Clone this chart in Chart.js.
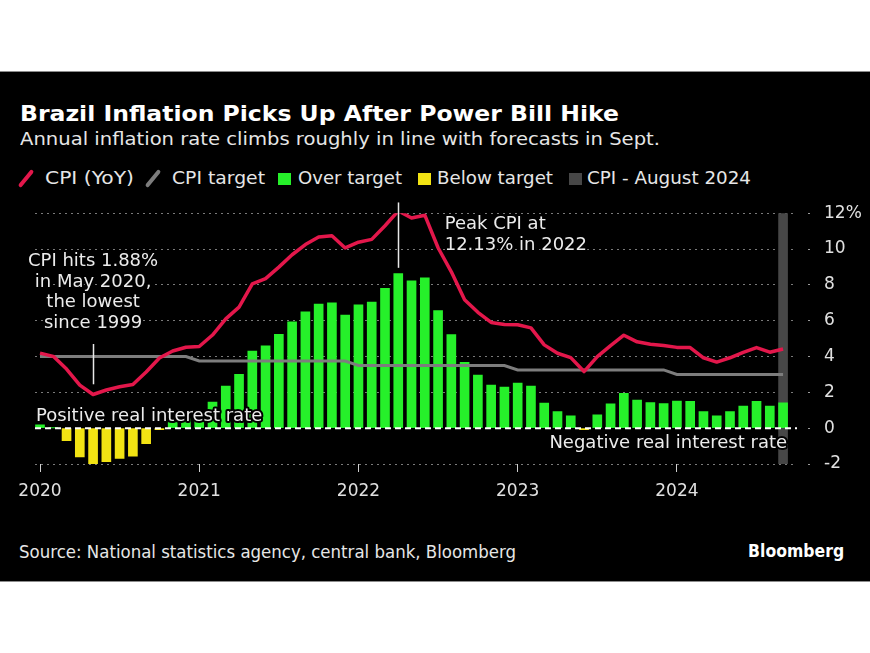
<!DOCTYPE html>
<html lang="en">
  <head>
    <meta charset="UTF-8" />
    <title>Brazil Inflation Picks Up After Power Bill Hike</title>
    <style>
      html,
      body {
        margin: 0;
        padding: 0;
        background: #fff;
      }
      body {
        width: 870px;
        height: 653px;
        position: relative;
        overflow: hidden;
        font-family: "DejaVu Sans", sans-serif;
      }
      .panel {
        position: absolute;
        left: 0;
        top: 71px;
        width: 870px;
        height: 509px;
        background: #000;
        border-top: 1px solid #8c8c8c;
        border-bottom: 1px solid #8c8c8c;
      }
      .txt {
        position: absolute;
        white-space: nowrap;
        line-height: 1;
        color: #e6e6e6;
        transform-origin: left center;
      }
      .title {
        left: 20px;
        top: 103px;
        font-size: 21.5px;
        font-weight: bold;
        color: #fff;
      }
      .subtitle {
        left: 20px;
        top: 130px;
        font-size: 18px;
      }
      .legend {
        top: 169px;
        font-size: 18px;
      }
      .slash {
        position: absolute;
        top: 168px;
        width: 4px;
        height: 21px;
        border-radius: 2px;
        transform: rotate(39deg);
      }
      .sq {
        position: absolute;
        top: 173px;
        width: 13px;
        height: 12px;
      }
      .source {
        left: 19px;
        top: 544px;
        font-size: 17px;
      }
      .brand {
        right: 26px;
        top: 543px;
        font-size: 17px;
        font-weight: bold;
        color: #fff;
        transform-origin: right center;
      }
      #chart {
        position: absolute;
        left: 0;
        top: 190px;
      }
    </style>
  </head>
  <body>
    <div class="panel"></div>
    <div class="txt title" data-w="599">Brazil Inflation Picks Up After Power Bill Hike</div>
    <div class="txt subtitle" data-w="640">Annual inflation rate climbs roughly in line with forecasts in Sept.</div>

    <i class="slash" style="left: 24px; background: #e3174b"></i>
    <div class="txt legend" style="left: 45px" data-w="89">CPI (YoY)</div>
    <i class="slash" style="left: 151px; background: #7d7d7d"></i>
    <div class="txt legend" style="left: 172px" data-w="93">CPI target</div>
    <i class="sq" style="left: 278px; background: #26f02a"></i>
    <div class="txt legend" style="left: 298px" data-w="104">Over target</div>
    <i class="sq" style="left: 418px; background: #f2e313"></i>
    <div class="txt legend" style="left: 437px" data-w="116">Below target</div>
    <i class="sq" style="left: 569px; background: #474747"></i>
    <div class="txt legend" style="left: 587px" data-w="164">CPI - August 2024</div>

    <canvas id="chart" width="870" height="320"></canvas>

    <div class="txt source" data-w="497">Source: National statistics agency, central bank, Bloomberg</div>
    <div class="txt brand" data-w="96">Bloomberg</div>

    <script src="https://cdn.jsdelivr.net/npm/chart.js"></script>
    <script>
      // monthly, Jan 2020 .. Sep 2024
      const cpi = [
        4.19, 4.01, 3.3, 2.4, 1.88, 2.13, 2.31, 2.44, 3.14, 3.92, 4.31, 4.52,
        4.56, 5.2, 6.1, 6.76, 8.06, 8.35, 8.99, 9.68, 10.25, 10.67, 10.74, 10.06,
        10.38, 10.54, 11.3, 12.13, 11.73, 11.89, 10.07, 8.73, 7.17, 6.47, 5.9, 5.79,
        5.77, 5.6, 4.65, 4.18, 3.94, 3.16, 3.99, 4.61, 5.19, 4.82, 4.68, 4.62,
        4.51, 4.5, 3.93, 3.69, 3.93, 4.23, 4.5, 4.24, 4.42,
      ];
      const cpiTarget = [
        4, 4, 4, 4, 4, 4, 4, 4, 4, 4, 4, 4,
        3.75, 3.75, 3.75, 3.75, 3.75, 3.75, 3.75, 3.75, 3.75, 3.75, 3.75, 3.75,
        3.5, 3.5, 3.5, 3.5, 3.5, 3.5, 3.5, 3.5, 3.5, 3.5, 3.5, 3.5,
        3.25, 3.25, 3.25, 3.25, 3.25, 3.25, 3.25, 3.25, 3.25, 3.25, 3.25, 3.25,
        3, 3, 3, 3, 3, 3, 3, 3, 3,
      ];
      const gap = [
        0.19, 0.01, -0.7, -1.6, -2.12, -1.87, -1.69, -1.56, -0.86, -0.08, 0.31, 0.52,
        0.81, 1.45, 2.35, 3.01, 4.31, 4.6, 5.24, 5.93, 6.5, 6.92, 6.99, 6.31,
        6.88, 7.04, 7.8, 8.63, 8.23, 8.39, 6.57, 5.23, 3.67, 2.97, 2.4, 2.29,
        2.52, 2.35, 1.4, 0.93, 0.69, -0.09, 0.74, 1.36, 1.94, 1.57, 1.43, 1.37,
        1.51, 1.5, 0.93, 0.69, 0.93, 1.23, 1.5, 1.24, 1.42,
      ];
      const yearTicks = [0, 12, 24, 36, 48];
      const yearLabels = ["2020", "2021", "2022", "2023", "2024"];
      const latestMonth = 56; // grey column
      const lowNote = ["CPI hits 1.88%", "in May 2020,", "the lowest", "since 1999"];
      const peakNote = ["Peak CPI at", "12.13% in 2022"];

      const RED = "#e3174b";
      const GREY = "#7d7d7d";
      const GREEN = "#26f02a";
      const YELLOW = "#f2e313";
      const FONT = '"DejaVu Sans", sans-serif';

      // stretch the html texts to the widths of the original
      document.querySelectorAll("[data-w]").forEach((el) => {
        const w = el.getBoundingClientRect().width;
        el.style.transform = "scaleX(" + el.dataset.w / w + ")";
      });

      const pts = (arr) => arr.map((v, i) => ({ x: i, y: v }));

      // dashed zero line + text notes
      const notes = {
        id: "notes",
        afterDatasetsDraw(chart) {
          const { ctx, chartArea, scales } = chart;
          const x = scales.x;
          const y = scales.y;
          const y0 = y.getPixelForValue(0);
          ctx.save();
          ctx.strokeStyle = "#fff";
          ctx.lineWidth = 2;
          ctx.setLineDash([6, 4]);
          ctx.beginPath();
          ctx.moveTo(chartArea.left, y0);
          ctx.lineTo(chartArea.right, y0);
          ctx.stroke();
          ctx.setLineDash([]);

          // pointer lines
          ctx.strokeStyle = "#e8e8e8";
          ctx.lineWidth = 1.5;
          let px = Math.round(x.getPixelForValue(4)) + 0.5;
          ctx.beginPath();
          ctx.moveTo(px, y.getPixelForValue(4.7));
          ctx.lineTo(px, y.getPixelForValue(2.45));
          ctx.stroke();
          px = Math.round(x.getPixelForValue(27)) + 0.5;
          ctx.beginPath();
          ctx.moveTo(px, y.getPixelForValue(12.6));
          ctx.lineTo(px, y.getPixelForValue(8.95));
          ctx.stroke();

          ctx.font = "18px " + FONT;
          ctx.lineJoin = "round";
          const label = (s, tx, ty, align) => {
            ctx.textAlign = align;
            ctx.textBaseline = "alphabetic";
            ctx.strokeStyle = "#000";
            ctx.lineWidth = 4;
            ctx.strokeText(s, tx, ty);
            ctx.fillStyle = "#ececec";
            ctx.fillText(s, tx, ty);
          };
          const lx = x.getPixelForValue(4);
          lowNote.forEach((s, i) => label(s, lx, y.getPixelForValue(9.04) + i * 20.6, "center"));
          const kx = x.getPixelForValue(30.5);
          peakNote.forEach((s, i) => label(s, kx, y.getPixelForValue(11.14) + i * 21, "left"));
          label("Positive real interest rate", chartArea.left + 1, y0 - 7, "left");
          label("Negative real interest rate", x.getPixelForValue(latestMonth) + 4, y0 + 20, "right");
          ctx.restore();
        },
      };

      new Chart(document.getElementById("chart"), {
        type: "bar",
        data: {
          datasets: [
            {
              type: "line",
              data: pts(cpi),
              borderColor: RED,
              borderWidth: 3.5,
              pointRadius: 0,
              tension: 0,
              borderJoinStyle: "round",
              order: 1,
            },
            {
              type: "line",
              data: pts(cpiTarget),
              borderColor: GREY,
              borderWidth: 3,
              pointRadius: 0,
              tension: 0,
              order: 2,
            },
            {
              data: pts(gap),
              backgroundColor: gap.map((v) => (v >= 0 ? GREEN : YELLOW)),
              barThickness: 9,
              grouped: false,
              order: 3,
            },
            {
              data: [{ x: latestMonth, y: [-2, 12] }],
              backgroundColor: "#474747",
              barThickness: 9,
              grouped: false,
              order: 4,
            },
          ],
        },
        options: {
          responsive: false,
          animation: false,
          devicePixelRatio: 1,
          layout: { padding: { left: 35, top: 14, right: 0, bottom: 10 } },
          plugins: { legend: { display: false }, tooltip: { enabled: false } },
          scales: {
            x: {
              type: "linear",
              offset: false,
              min: -0.377,
              max: 57.05,
              afterBuildTicks: (s) => {
                s.ticks = yearTicks.map((v) => ({ value: v }));
              },
              afterFit: (s) => {
                s.height = 36;
              },
              ticks: {
                autoSkip: false,
                maxRotation: 0,
                padding: 9,
                color: "#e0e0e0",
                font: { family: FONT, size: 17 },
                callback: (v, i) => yearLabels[i],
              },
              grid: {
                offset: false,
                drawOnChartArea: false,
                tickLength: 8,
                tickColor: "#cfcfcf",
                tickWidth: 1,
              },
              border: { display: false },
            },
            y: {
              position: "right",
              min: -2,
              max: 12,
              afterFit: (s) => {
                s.width = 73;
              },
              ticks: {
                stepSize: 2,
                padding: 13,
                crossAlign: "near",
                color: "#e0e0e0",
                font: { family: FONT, size: 17 },
                callback: (v) => (v === 12 ? "12%" : v),
              },
              grid: {
                color: (c) => (c.tick && c.tick.value === 0 ? "rgba(0,0,0,0)" : "#7a7a7a"),
                lineWidth: 1,
                tickLength: 14,
                tickColor: "#9a9a9a",
                tickBorderDash: [0, 11, 2, 40],
              },
              border: { display: false, dash: [2, 4] },
            },
          },
        },
        plugins: [notes],
      });
    </script>
  </body>
</html>
